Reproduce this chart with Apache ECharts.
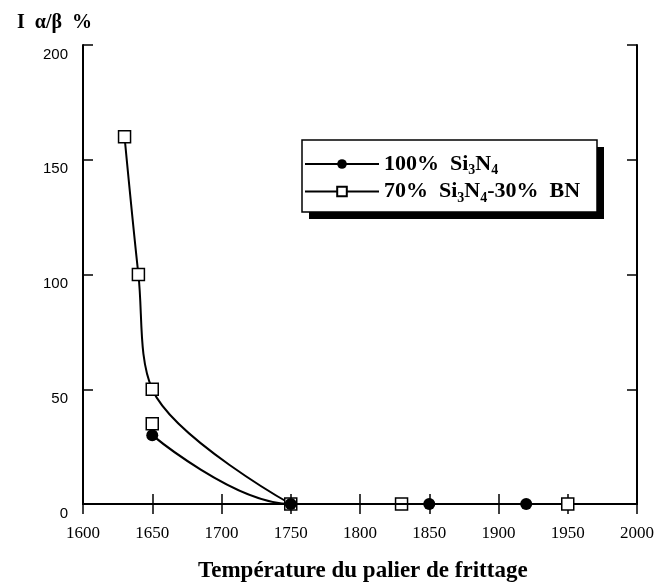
<!DOCTYPE html>
<html>
<head>
<meta charset="utf-8">
<script src="https://cdn.jsdelivr.net/npm/echarts@6/dist/echarts.min.js"></script>
<style>
  html,body{margin:0;padding:0;background:#fff;}
  #main{width:657px;height:585px;}
</style>
</head>
<body>
<div id="main"></div>
<script>
// tick labels
var xTicks = [1600, 1650, 1700, 1750, 1800, 1850, 1900, 1950, 2000];
var yTicks = [0, 50, 100, 150, 200];

// 100% Si3N4 (filled circles)
var siTemp = [1650, 1750, 1850, 1920];
var siVal = [30, 0, 0, 0];

// 70% Si3N4 - 30% BN (open squares) lying on the fitted curve
var bnTemp = [1630, 1640, 1650, 1750];
var bnVal = [160, 100, 50, 0];
// other squares, not on the curve
var bnOtherTemp = [1650, 1830, 1950];
var bnOtherVal = [35, 0, 0];

function pairs(xs, ys) {
  return xs.map(function (x, i) { return [x, ys[i]]; });
}

var chart = echarts.init(document.getElementById('main'));
var serif = 'Liberation Serif';

var tickStyle = { inside: true, length: 10, lineStyle: { color: '#000', width: 1.5 } };
var lineStyleAx = { show: true, lineStyle: { color: '#000', width: 2 } };
var squareStyle = { color: '#fff', borderColor: '#000', borderWidth: 1.5, opacity: 1 };

var option = {
  animation: false,
  backgroundColor: '#fff',
  grid: { left: 83, right: 19, top: 45, bottom: 81 },
  title: [
    { text: 'I  α/β  %', left: 12, top: 8, textStyle: { fontFamily: serif, fontWeight: 'bold', fontSize: 20, color: '#000' } },
    { text: 'Température du palier de frittage', left: 193, top: 555, textStyle: { fontFamily: serif, fontWeight: 'bold', fontSize: 23, color: '#000' } }
  ],
  // legend frame with its hard black shadow
  graphic: [
    { type: 'rect', z: 1, shape: { x: 309, y: 147, width: 295, height: 72 }, style: { fill: '#000' } },
    { type: 'rect', z: 2, shape: { x: 302, y: 140, width: 295, height: 72 }, style: { fill: '#fff', stroke: '#000', lineWidth: 1.5 } }
  ],
  legend: {
    left: 304, top: 153, z: 10,
    orient: 'vertical',
    data: ['100% Si3N4', '70% Si3N4-30% BN'],
    itemWidth: 74, itemHeight: 12, itemGap: 3,
    padding: 0,
    selectedMode: false,
    formatter: function (name) {
      if (name === '100% Si3N4') return '{b|100%  Si}{s|3}{b|N}{s|4}';
      return '{b|70%  Si}{s|3}{b|N}{s|4}{b|-30%  BN}';
    },
    textStyle: {
      rich: {
        b: { fontFamily: serif, fontWeight: 'bold', fontSize: 22, color: '#000' },
        s: { fontFamily: serif, fontWeight: 'bold', fontSize: 14, color: '#000', padding: [13, 0, 0, 0] }
      }
    }
  },
  xAxis: [
    {
      type: 'value', position: 'bottom', min: 1600, max: 2000, interval: 50,
      axisLine: lineStyleAx, axisTick: tickStyle,
      axisLabel: {
        margin: 21, fontFamily: serif, fontSize: 17, color: '#000',
        formatter: function (v) { return String(v); }
      },
      splitLine: { show: false }
    },
    {
      type: 'value', position: 'top', min: 1600, max: 2000, interval: 50,
      axisLine: lineStyleAx, axisTick: tickStyle,
      axisLabel: { show: false }, splitLine: { show: false }
    }
  ],
  yAxis: [
    {
      type: 'value', position: 'left', min: 0, max: 200, interval: 50,
      axisLine: lineStyleAx, axisTick: tickStyle,
      axisLabel: { margin: 15, fontFamily: 'Liberation Sans', fontSize: 15, color: '#000', verticalAlign: 'top', padding: [2, 0, 0, 0] },
      splitLine: { show: false }
    },
    {
      type: 'value', position: 'right', min: 0, max: 200, interval: 50,
      axisLine: lineStyleAx, axisTick: tickStyle,
      axisLabel: { show: false }, splitLine: { show: false }
    }
  ],
  series: [
    {
      name: '100% Si3N4', type: 'line',
      data: pairs(siTemp, siVal),
      smooth: 0.4, smoothMonotone: 'x',
      symbol: 'circle', symbolSize: 12,
      itemStyle: { color: '#000' },
      lineStyle: { color: '#000', width: 2.2 },
      z: 6
    },
    {
      name: '70% Si3N4-30% BN', type: 'line',
      data: pairs(bnTemp, bnVal),
      smooth: 0.35,
      symbol: 'rect', symbolSize: 12,
      itemStyle: squareStyle,
      lineStyle: { color: '#000', width: 2 },
      z: 4
    },
    {
      name: 'other', type: 'scatter',
      data: pairs(bnOtherTemp, bnOtherVal),
      symbol: 'rect', symbolSize: 12,
      itemStyle: squareStyle,
      z: 4
    }
  ]
};

chart.setOption(option);
</script>
</body>
</html>
